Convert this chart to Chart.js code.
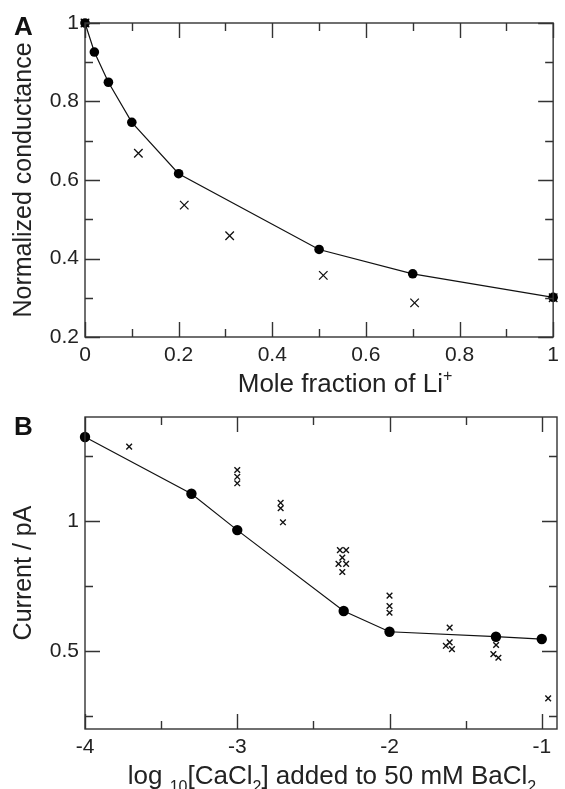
<!DOCTYPE html>
<html>
<head>
<meta charset="utf-8">
<script src="https://cdn.jsdelivr.net/npm/chart.js@4.4.1/dist/chart.umd.min.js"></script>
<style>
  html, body { margin: 0; padding: 0; background: #fff; }
  .panel { position: absolute; left: 0; width: 565px; }
  #wrapA { top: 0; height: 395px; }
  #wrapB { top: 395px; height: 394px; }
</style>
</head>
<body>
<div class="panel" id="wrapA"><canvas id="chartA"></canvas></div>
<div class="panel" id="wrapB"><canvas id="chartB"></canvas></div>
<script>
// Panel A: normalized conductance vs mole fraction of Li+
const aLineX = [0, 0.02, 0.05, 0.1, 0.2, 0.5, 0.7, 1.0];
const aLineY = [1.0, 0.926, 0.849, 0.747, 0.616, 0.423, 0.361, 0.301];
const aCrossX = [0, 0.114, 0.212, 0.309, 0.509, 0.704, 1.0];
const aCrossY = [1.0, 0.668, 0.536, 0.458, 0.357, 0.287, 0.3];
const aXTicks = [0, 0.2, 0.4, 0.6, 0.8, 1];
const aXMinor = [0.1, 0.3, 0.5, 0.7, 0.9];
const aYTicks = [0.2, 0.4, 0.6, 0.8, 1];
const aYMinor = [0.3, 0.5, 0.7, 0.9];

// Panel B: current vs log10[CaCl2]
const bLineX = [-4, -3.301, -3, -2.301, -2, -1.301, -1];
const bLineY = [1.323, 1.105, 0.965, 0.654, 0.574, 0.555, 0.546];
const bCrossX = [-3.71, -3.0, -3.0, -3.0, -2.715, -2.715, -2.70,
                 -2.326, -2.285, -2.31, -2.335, -2.285, -2.31,
                 -2.0, -2.0, -2.0, -1.605, -1.63, -1.605, -1.59,
                 -1.30, -1.318, -1.285, -0.958];
const bCrossY = [1.286, 1.196, 1.170, 1.145, 1.070, 1.049, 0.995,
                 0.888, 0.888, 0.859, 0.835, 0.835, 0.804,
                 0.713, 0.673, 0.647, 0.590, 0.520, 0.533, 0.507,
                 0.523, 0.488, 0.474, 0.318];
const bXTicks = [-4, -3, -2, -1];
const bXMinor = [-3.5, -2.5, -1.5];
const bYTicks = [0.5, 1];
const bYMinor = [0.25, 0.75, 1.25];

const FONT = '"Liberation Sans", Arial, sans-serif';
const INK = '#222';

function pts(xs, ys) { return xs.map((x, i) => ({ x: x, y: ys[i] })); }

function drawRich(ctx, segs, cx, cy, size, rotate) {
  ctx.save();
  ctx.translate(cx, cy);
  if (rotate) ctx.rotate(-Math.PI / 2);
  const small = Math.round(size * 0.62);
  let w = 0;
  segs.forEach(s => {
    ctx.font = ((s.sub || s.sup) ? small : size) + 'px ' + FONT;
    s.w = ctx.measureText(s.t).width;
    w += s.w;
  });
  let x = -w / 2;
  ctx.fillStyle = INK;
  ctx.textAlign = 'left';
  ctx.textBaseline = 'alphabetic';
  segs.forEach(s => {
    ctx.font = ((s.sub || s.sup) ? small : size) + 'px ' + FONT;
    const dy = s.sub ? size * 0.28 : (s.sup ? -size * 0.42 : 0);
    ctx.fillText(s.t, x, size * 0.36 + dy);
    x += s.w;
  });
  ctx.restore();
}

// frame, inward ticks, titles and panel letter
const framePlugin = {
  id: 'frame',
  afterDraw(chart, args, o) {
    const ctx = chart.ctx, a = chart.chartArea, sx = chart.scales.x, sy = chart.scales.y;
    ctx.save();
    ctx.strokeStyle = '#333';
    ctx.lineWidth = 1.4;
    ctx.beginPath();
    const tick = (vals, len, axis) => vals.forEach(v => {
      if (axis === 'x') {
        const p = Math.round(sx.getPixelForValue(v)) + 0.5;
        ctx.moveTo(p, a.bottom); ctx.lineTo(p, a.bottom - len);
        ctx.moveTo(p, a.top); ctx.lineTo(p, a.top + len);
      } else {
        const p = Math.round(sy.getPixelForValue(v)) + 0.5;
        ctx.moveTo(a.left, p); ctx.lineTo(a.left + len, p);
        ctx.moveTo(a.right, p); ctx.lineTo(a.right - len, p);
      }
    });
    tick(o.xMajor, 15, 'x');
    tick(o.xMinor, 8, 'x');
    tick(o.yMajor, 15, 'y');
    tick(o.yMinor, 8, 'y');
    ctx.stroke();
    ctx.strokeRect(a.left, a.top, a.right - a.left, a.bottom - a.top);

    drawRich(ctx, o.yTitle, 22, (a.top + a.bottom) / 2, 25, true);
    drawRich(ctx, o.xTitle, o.xTitleX, o.xTitleY, 26, false);

    ctx.fillStyle = '#111';
    ctx.font = 'bold 26px ' + FONT;
    ctx.textAlign = 'left';
    ctx.textBaseline = 'middle';
    ctx.fillText(o.letter, 14, o.letterY);
    ctx.restore();
  }
};

function fixTicks(list) {
  return scale => { scale.ticks = list.map(v => ({ value: v })); };
}

function makeChart(id, cfg) {
  return new Chart(document.getElementById(id), {
    type: 'scatter',
    data: {
      datasets: [
        {
          data: cfg.line,
          showLine: true,
          borderColor: '#111',
          borderWidth: 1.2,
          pointStyle: 'circle',
          pointRadius: cfg.dot,
          pointBackgroundColor: '#000',
          pointBorderColor: '#000',
          pointBorderWidth: 0,
          clip: false
        },
        {
          data: cfg.cross,
          showLine: false,
          pointStyle: 'crossRot',
          pointRadius: cfg.crossR,
          pointBorderColor: '#111',
          pointBorderWidth: cfg.crossW,
          clip: false
        }
      ]
    },
    options: {
      responsive: true,
      maintainAspectRatio: false,
      animation: false,
      events: [],
      layout: { padding: { top: cfg.top, right: 8, left: 0, bottom: 0 } },
      plugins: {
        legend: { display: false },
        tooltip: { enabled: false },
        frame: cfg.frame
      },
      scales: {
        x: {
          type: 'linear',
          min: cfg.xMin,
          max: cfg.xMax,
          afterBuildTicks: fixTicks(cfg.xTicks),
          afterFit: s => { s.height = cfg.xHeight; },
          grid: { display: false, drawTicks: false },
          border: { display: false },
          ticks: {
            padding: 6,
            color: INK,
            font: { size: 21, family: FONT },
            maxRotation: 0,
            callback: v => String(v)
          }
        },
        y: {
          type: 'linear',
          min: cfg.yMin,
          max: cfg.yMax,
          afterBuildTicks: fixTicks(cfg.yTicks),
          afterFit: s => { s.width = 85; },
          grid: { display: false, drawTicks: false },
          border: { display: false },
          ticks: {
            padding: 6,
            color: INK,
            font: { size: 21, family: FONT },
            callback: v => String(v)
          }
        }
      }
    },
    plugins: [framePlugin]
  });
}

makeChart('chartA', {
  line: pts(aLineX, aLineY),
  cross: pts(aCrossX, aCrossY),
  dot: 4.8, crossR: 6, crossW: 1.3,
  top: 23, xHeight: 58,
  xMin: 0, xMax: 1, yMin: 0.2, yMax: 1,
  xTicks: aXTicks, yTicks: aYTicks,
  frame: {
    xMajor: aXTicks, xMinor: aXMinor, yMajor: aYTicks, yMinor: aYMinor,
    yTitle: [{ t: 'Normalized conductance' }],
    xTitle: [{ t: 'Mole fraction of Li' }, { t: '+', sup: true }],
    xTitleX: 345, xTitleY: 383, letter: 'A', letterY: 28
  }
});

makeChart('chartB', {
  line: pts(bLineX, bLineY),
  cross: pts(bCrossX, bCrossY),
  dot: 5.2, crossR: 4, crossW: 1.4,
  top: 22, xHeight: 60,
  xMin: -4, xMax: -0.9, yMin: 0.2, yMax: 1.4,
  xTicks: bXTicks, yTicks: bYTicks,
  frame: {
    xMajor: bXTicks, xMinor: bXMinor, yMajor: bYTicks, yMinor: bYMinor,
    yTitle: [{ t: 'Current / pA' }],
    xTitle: [{ t: 'log' }, { t: ' ' }, { t: '10', sub: true }, { t: '[CaCl' }, { t: '2', sub: true },
             { t: '] added to 50 mM BaCl' }, { t: '2', sub: true }],
    xTitleX: 332, xTitleY: 380, letter: 'B', letterY: 33
  }
});
</script>
</body>
</html>
